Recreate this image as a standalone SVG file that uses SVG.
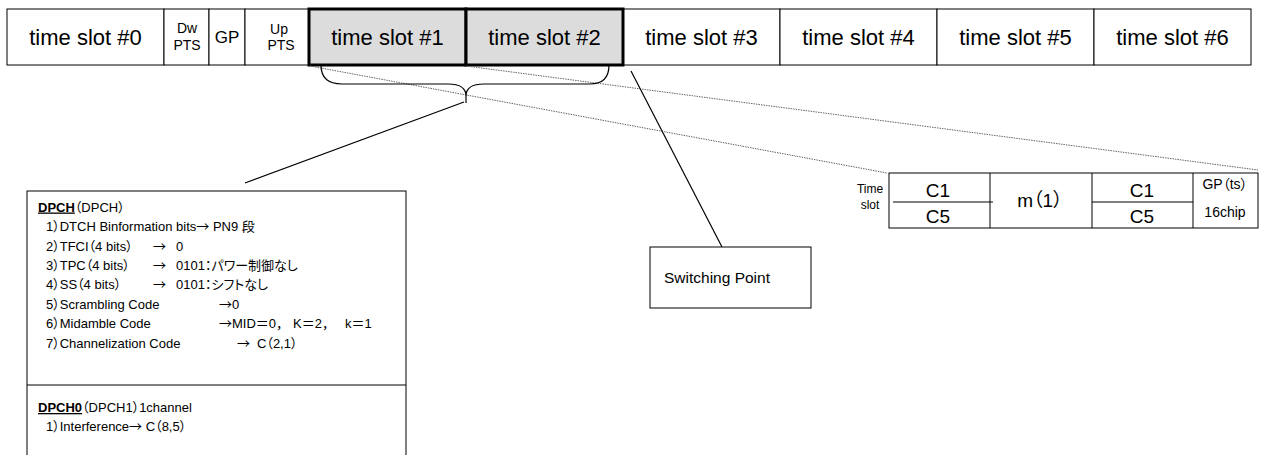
<svg xmlns="http://www.w3.org/2000/svg" width="1262" height="455" viewBox="0 0 1262 455">
  <style>
    text { font-family: "Liberation Sans", "Noto Sans CJK JP", sans-serif; fill: #000; }
    .cell { fill: #fff; stroke: #000; stroke-width: 1; }
    .sel { fill: #dcdcdc; stroke: #000; stroke-width: 3; }
    .big { font-size: 22px; text-anchor: middle; }
    .small { font-size: 14px; text-anchor: middle; }
    .body { font-size: 13px; }
    .p { font-feature-settings: "palt"; }
    .ar { font-family: "Noto Sans CJK JP", sans-serif; }
    .head { font-weight: bold; text-decoration: underline; }
    .tbl { font-size: 19px; text-anchor: middle; }
    .tsm { font-size: 14px; text-anchor: middle; font-feature-settings: "palt"; }
    .line { fill: none; stroke: #000; stroke-width: 1.2; }
    .dot { fill: none; stroke: #666; stroke-width: 1; stroke-dasharray: 1.5 1; }
    .box { fill: #fff; stroke: #000; stroke-width: 1; }
  </style>

  <!-- frame structure bar -->
  <g id="ts0">
    <rect class="cell" x="7" y="9" width="157" height="56"/>
    <text class="big" x="85.5" y="45">time slot #0</text>
  </g>
  <g id="dwpts">
    <rect class="cell" x="164" y="9" width="45" height="56"/>
    <text class="small" x="187" y="33">Dw</text>
    <text class="small" x="187" y="50">PTS</text>
  </g>
  <g id="gp">
    <rect class="cell" x="209" y="9" width="36" height="56"/>
    <text x="227" y="43" style="font-size:17px;text-anchor:middle">GP</text>
  </g>
  <g id="uppts">
    <rect class="cell" x="245" y="9" width="64" height="56"/>
    <text class="small" x="279" y="34">Up</text>
    <text class="small" x="281" y="50">PTS</text>
  </g>
  <g id="ts3">
    <rect class="cell" x="623" y="9" width="157" height="56"/>
    <text class="big" x="701.5" y="45">time slot #3</text>
  </g>
  <g id="ts4">
    <rect class="cell" x="780" y="9" width="157" height="56"/>
    <text class="big" x="858.5" y="45">time slot #4</text>
  </g>
  <g id="ts5">
    <rect class="cell" x="937" y="9" width="157" height="56"/>
    <text class="big" x="1015.5" y="45">time slot #5</text>
  </g>
  <g id="ts6">
    <rect class="cell" x="1094" y="9" width="157" height="56"/>
    <text class="big" x="1172.5" y="45">time slot #6</text>
  </g>
  <g id="ts1">
    <rect class="sel" x="309" y="9" width="157" height="56"/>
    <text class="big" x="387.5" y="45">time slot #1</text>
  </g>
  <g id="ts2">
    <rect class="sel" x="466" y="9" width="157" height="56"/>
    <text class="big" x="544.5" y="45">time slot #2</text>
  </g>

  <!-- connectors -->
  <g id="connectors">
    <path class="dot" d="M310,66 L887,173"/>
    <path class="dot" d="M466,66 L1258,170"/>
    <path class="line" d="M321,65 C321,78 328,84 342,84 L448,84 C459,84 466,88 466,96 C466,88 473,84 484,84 L590,84 C603,84 609,78 609,65"/>
    <path class="line" d="M466,96 L466,103"/>
    <path class="line" d="M464,102 L245,183"/>
    <path class="line" d="M631,71 L722,247"/>
  </g>

  <!-- channel settings -->
  <g id="dpch">
    <rect class="box" x="27" y="191" width="379" height="280"/>
    <path d="M27,385 H406" stroke="#000" stroke-width="1"/>
    <text class="body" y="211.5"><tspan x="38" class="head">DPCH</tspan><tspan class="p">（DPCH）</tspan></text>
    <text class="body" y="231"><tspan x="46" class="p">1）</tspan><tspan>DTCH Binformation bits</tspan><tspan class="ar">→</tspan><tspan> PN9 段</tspan></text>
    <text class="body" y="250.5"><tspan x="46" class="p">2）TFCI（4 bits）</tspan><tspan x="153" class="ar">→</tspan><tspan x="176">0</tspan></text>
    <text class="body" y="270"><tspan x="46" class="p">3）TPC（4 bits）</tspan><tspan x="153" class="ar">→</tspan><tspan x="176" class="p">0101：パワー制御なし</tspan></text>
    <text class="body" y="289"><tspan x="46" class="p">4）SS（4 bits）</tspan><tspan x="153" class="ar">→</tspan><tspan x="176" class="p">0101：シフトなし</tspan></text>
    <text class="body" y="308.5"><tspan x="46" class="p">5）Scrambling Code</tspan><tspan x="219" class="ar">→</tspan><tspan>0</tspan></text>
    <text class="body" y="328"><tspan x="46" class="p">6）Midamble Code</tspan><tspan x="219" class="ar">→</tspan><tspan>MID＝0，</tspan><tspan x="293">K＝2，</tspan><tspan x="345">k＝1</tspan></text>
    <text class="body" y="347.5"><tspan x="46" class="p">7）Channelization Code</tspan><tspan x="237" class="ar">→</tspan><tspan x="257" class="p">C（2,1）</tspan></text>
    <text class="body" y="412"><tspan x="38" class="head">DPCH0</tspan><tspan class="p">（DPCH1）1channel</tspan></text>
    <text class="body" y="431"><tspan x="46" class="p">1）Interference</tspan><tspan class="ar">→</tspan><tspan class="p">  C（8,5）</tspan></text>
  </g>

  <g id="switching-point">
    <rect class="box" x="650" y="247" width="161" height="61"/>
    <text x="664" y="283" style="font-size:15.5px">Switching Point</text>
  </g>

  <!-- expanded time slot -->
  <g id="slot-detail">
    <text x="870" y="193" style="font-size:12px;text-anchor:middle">Time</text>
    <text x="870" y="209" style="font-size:12px;text-anchor:middle">slot</text>
    <rect class="cell" x="889" y="173" width="369" height="55"/>
    <path d="M990,173 V228 M1092,173 V228 M1193,173 V228 M893,202 H993 M1092,202 H1193" stroke="#000" stroke-width="1" fill="none"/>
    <text class="tbl" x="938" y="197">C1</text>
    <text class="tbl" x="938" y="223">C5</text>
    <text class="tbl p" x="1040" y="207">m（1）</text>
    <text class="tbl" x="1142" y="197">C1</text>
    <text class="tbl" x="1142" y="223">C5</text>
    <text class="tsm" x="1225" y="189">GP（ts）</text>
    <text class="tsm" x="1225" y="217">16chip</text>
  </g>
</svg>
